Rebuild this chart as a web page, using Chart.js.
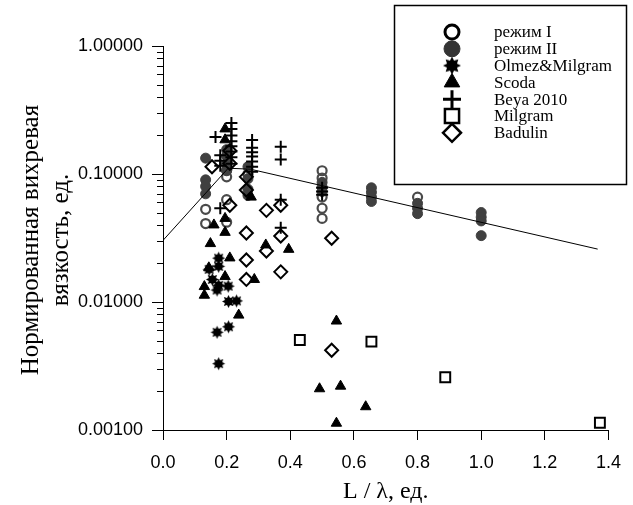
<!DOCTYPE html>
<html>
<head>
<meta charset="utf-8">
<script src="https://cdn.jsdelivr.net/npm/chart.js@4.4.0/dist/chart.umd.min.js"></script>
<style>
  html, body { margin: 0; padding: 0; background: #fff; }
  #chart { display: block; }
</style>
</head>
<body>
<canvas id="chart" width="633" height="505"></canvas>
<script>
// points are [L/lambda, normalized eddy viscosity]
var modeI = [[0.134, 0.053], [0.134, 0.041], [0.2, 0.107], [0.2, 0.095], [0.2, 0.063], [0.2, 0.042],
    [0.267, 0.1], [0.5, 0.106], [0.5, 0.093], [0.5, 0.066], [0.5, 0.054], [0.5, 0.045], [0.8, 0.066]];
var modeII = [[0.134, 0.133], [0.134, 0.09], [0.134, 0.08], [0.134, 0.07],
    [0.2, 0.155], [0.2, 0.138], [0.2, 0.12], [0.2, 0.106],
    [0.267, 0.114], [0.267, 0.092], [0.267, 0.076], [0.267, 0.068],
    [0.5, 0.086], [0.5, 0.079], [0.5, 0.073],
    [0.655, 0.078], [0.655, 0.072], [0.655, 0.066], [0.655, 0.061],
    [0.8, 0.059], [0.8, 0.054], [0.8, 0.049],
    [1.0, 0.05], [1.0, 0.046], [1.0, 0.043], [1.0, 0.033]];
var olmez = [[0.175, 0.022], [0.175, 0.019], [0.145, 0.018], [0.155, 0.015], [0.175, 0.0135], [0.205, 0.0133],
    [0.17, 0.0124], [0.206, 0.0101], [0.231, 0.0102], [0.17, 0.0058], [0.206, 0.0064], [0.175, 0.0033]];
var scoda = [[0.195, 0.225], [0.195, 0.185], [0.16, 0.04], [0.195, 0.045], [0.195, 0.035], [0.149, 0.0286],
    [0.21, 0.0221], [0.195, 0.0158], [0.144, 0.0185], [0.13, 0.0132], [0.13, 0.0113], [0.287, 0.015],
    [0.238, 0.0079], [0.277, 0.066], [0.323, 0.0279], [0.395, 0.0258],
    [0.545, 0.0071], [0.492, 0.0021], [0.558, 0.0022], [0.637, 0.00152], [0.545, 0.00113]];
var beya = [[0.165, 0.195], [0.18, 0.14], [0.18, 0.127], [0.18, 0.116], [0.18, 0.054],
    [0.215, 0.25], [0.215, 0.225], [0.215, 0.2], [0.215, 0.18], [0.215, 0.165], [0.215, 0.15], [0.215, 0.135], [0.215, 0.12],
    [0.28, 0.184], [0.28, 0.16], [0.28, 0.148], [0.28, 0.137], [0.28, 0.125], [0.28, 0.114], [0.28, 0.104],
    [0.37, 0.163], [0.37, 0.13], [0.37, 0.063], [0.37, 0.038],
    [0.5, 0.078], [0.5, 0.073], [0.5, 0.069]];
var milgram = [[0.43, 0.00505], [0.655, 0.0049], [0.887, 0.00258], [1.373, 0.00114]];
var badulin = [[0.154, 0.114], [0.21, 0.152], [0.21, 0.121], [0.21, 0.057], [0.262, 0.095], [0.262, 0.075],
    [0.325, 0.052], [0.37, 0.057], [0.262, 0.0346], [0.325, 0.025], [0.37, 0.0328], [0.262, 0.0213],
    [0.262, 0.015], [0.37, 0.0172], [0.53, 0.0315], [0.53, 0.0042]];
var trendLine = [[0, 0.0303], [0.205, 0.111], [0.275, 0.109], [1.366, 0.0259]];

var seriesLabels = ['режим I', 'режим II', 'Olmez&Milgram', 'Scoda', 'Beya 2010', 'Milgram', 'Badulin'];
var xTicks = [0, 0.2, 0.4, 0.6, 0.8, 1.0, 1.2, 1.4];
var yDecades = [0.001, 0.01, 0.1, 1];
var xTitle = 'L / λ, ед.';
var yTitle = ['Нормированная вихревая', 'вязкость, ед.'];

function toXY(arr) {
    return arr.map(function (p) { return { x: p[0], y: p[1] }; });
}

// filled 8-ray burst used for the Olmez&Milgram marker
function makeStar(r) {
    var c = document.createElement('canvas');
    var s = Math.ceil(r * 2 + 2);
    c.width = s; c.height = s;
    var g = c.getContext('2d');
    g.beginPath();
    for (var i = 0; i < 16; i++) {
        var a = i * Math.PI / 8 - Math.PI / 2;
        var rr = i % 2 === 0 ? r : r * 0.6;
        g.lineTo(s / 2 + rr * Math.cos(a), s / 2 + rr * Math.sin(a));
    }
    g.closePath();
    g.fillStyle = '#000';
    g.fill();
    return c;
}
var starSmall = makeStar(6.5);
var starBig = makeStar(9);

var serif = "'Liberation Serif', 'Times New Roman', serif";
var sans = "'Liberation Sans', Arial, sans-serif";

function pointSet(label, data, style, radius, fill, stroke, width, order) {
    return {
        type: 'scatter',
        label: label,
        data: toXY(data),
        pointStyle: style,
        pointRadius: radius,
        pointHoverRadius: radius,
        backgroundColor: fill,
        borderColor: stroke,
        pointBorderWidth: width,
        order: order
    };
}

var datasets = [
    pointSet(seriesLabels[0], modeI, 'circle', 4.5, 'rgba(0,0,0,0)', '#4a4a4a', 2.2, 8),
    pointSet(seriesLabels[1], modeII, 'circle', 5, '#404040', '#404040', 1, 7),
    pointSet(seriesLabels[2], olmez, starSmall, 6, '#000', '#000', 1, 6),
    pointSet(seriesLabels[3], scoda, 'triangle', 6, '#000', '#000', 1, 5),
    pointSet(seriesLabels[4], beya, 'cross', 6, '#000', '#000', 2, 4),
    pointSet(seriesLabels[5], milgram, 'rect', 7, 'rgba(0,0,0,0)', '#000', 2, 3),
    pointSet(seriesLabels[6], badulin, 'rectRot', 6.5, 'rgba(0,0,0,0)', '#000', 2, 2),
    {
        type: 'line',
        label: 'trend',
        data: toXY(trendLine),
        borderColor: '#000',
        borderWidth: 1,
        pointRadius: 0,
        fill: false,
        tension: 0,
        order: 1
    }
];

// legend symbols, drawn with the library's own point renderer
var legendStyles = [
    { style: 'circle', r: 7, fill: '#fff', stroke: '#000', w: 3 },
    { style: 'circle', r: 8, fill: '#333', stroke: '#333', w: 1 },
    { style: starBig, r: 8, fill: '#000', stroke: '#000', w: 1 },
    { style: 'triangle', r: 9, fill: '#000', stroke: '#000', w: 1 },
    { style: 'cross', r: 9, fill: '#000', stroke: '#000', w: 3 },
    { style: 'rect', r: 10, fill: '#fff', stroke: '#000', w: 2.5 },
    { style: 'rectRot', r: 9, fill: '#fff', stroke: '#000', w: 2.5 }
];

var boxLegend = {
    id: 'boxLegend',
    afterDraw: function (chart) {
        var ctx = chart.ctx;
        ctx.save();
        ctx.fillStyle = '#fff';
        ctx.fillRect(394, 5, 232, 179);
        ctx.strokeStyle = '#000';
        ctx.lineWidth = 1.5;
        ctx.strokeRect(394.5, 5.5, 232, 179);
        ctx.font = '17px ' + serif;
        ctx.textBaseline = 'middle';
        for (var i = 0; i < seriesLabels.length; i++) {
            var cy = 32 + i * 16.8;
            var st = legendStyles[i];
            ctx.fillStyle = st.fill;
            ctx.strokeStyle = st.stroke;
            ctx.lineWidth = st.w;
            Chart.helpers.drawPoint(ctx, { pointStyle: st.style, radius: st.r, borderWidth: st.w, rotation: 0 }, 452, cy);
            ctx.fillStyle = '#000';
            ctx.fillText(seriesLabels[i], 494, cy + 1);
        }
        ctx.restore();
    }
};

var axisDecor = {
    id: 'axisDecor',
    afterDraw: function (chart) {
        var ctx = chart.ctx;
        var ys = chart.scales.y;
        var left = chart.chartArea.left;
        ctx.save();
        ctx.strokeStyle = '#000';
        ctx.lineWidth = 1;
        ctx.beginPath();
        ys.ticks.forEach(function (t) {
            var major = yDecades.indexOf(t.value) >= 0;
            var py = Math.round(ys.getPixelForValue(t.value)) + 0.5;
            ctx.moveTo(left - (major ? 11 : 6), py);
            ctx.lineTo(left, py);
        });
        ctx.stroke();

        ctx.fillStyle = '#000';
        ctx.textAlign = 'center';
        ctx.textBaseline = 'middle';
        ctx.font = '24px ' + serif;
        ctx.fillText(xTitle, (chart.chartArea.left + chart.chartArea.right) / 2, 492);

        ctx.translate(0, 240);
        ctx.rotate(-Math.PI / 2);
        ctx.font = '25px ' + serif;
        ctx.fillText(yTitle[0], 0, 31);
        ctx.fillText(yTitle[1], 0, 61);
        ctx.restore();
    }
};

var ctx = document.getElementById('chart').getContext('2d');
var chart = new Chart(ctx, {
    type: 'scatter',
    data: { datasets: datasets },
    options: {
        responsive: false,
        animation: false,
        layout: { padding: { top: 46, right: 13, left: 0, bottom: 0 } },
        plugins: {
            legend: { display: false },
            tooltip: { enabled: false }
        },
        scales: {
            x: {
                type: 'linear',
                min: 0,
                max: 1.4,
                afterBuildTicks: function (s) {
                    s.ticks = xTicks.map(function (v) { return { value: v }; });
                },
                afterFit: function (s) { s.height = 75; },
                ticks: {
                    callback: function (v) { return Number(v).toFixed(1); },
                    font: { family: sans, size: 18 },
                    color: '#000',
                    padding: 12,
                    maxRotation: 0,
                    autoSkip: false
                },
                grid: { drawOnChartArea: false, drawTicks: true, tickLength: 10, tickColor: '#000', color: '#000' },
                border: { display: true, color: '#000', width: 1 }
            },
            y: {
                type: 'logarithmic',
                min: 0.001,
                max: 1,
                afterBuildTicks: function (s) {
                    var t = [];
                    for (var d = 0; d < yDecades.length - 1; d++) {
                        for (var k = 1; k < 10; k++) t.push({ value: +(yDecades[d] * k).toPrecision(3) });
                    }
                    t.push({ value: 1 });
                    s.ticks = t;
                },
                afterFit: function (s) { s.width = 163; },
                ticks: {
                    callback: function (v) {
                        return yDecades.indexOf(v) >= 0 ? Number(v).toFixed(5) : '';
                    },
                    font: { family: sans, size: 18 },
                    color: '#000',
                    padding: 9,
                    autoSkip: false
                },
                grid: { drawOnChartArea: false, drawTicks: true, tickLength: 11, tickColor: 'rgba(0,0,0,0)' },
                border: { display: true, color: '#000', width: 1 }
            }
        }
    },
    plugins: [axisDecor, boxLegend]
});
</script>
</body>
</html>
